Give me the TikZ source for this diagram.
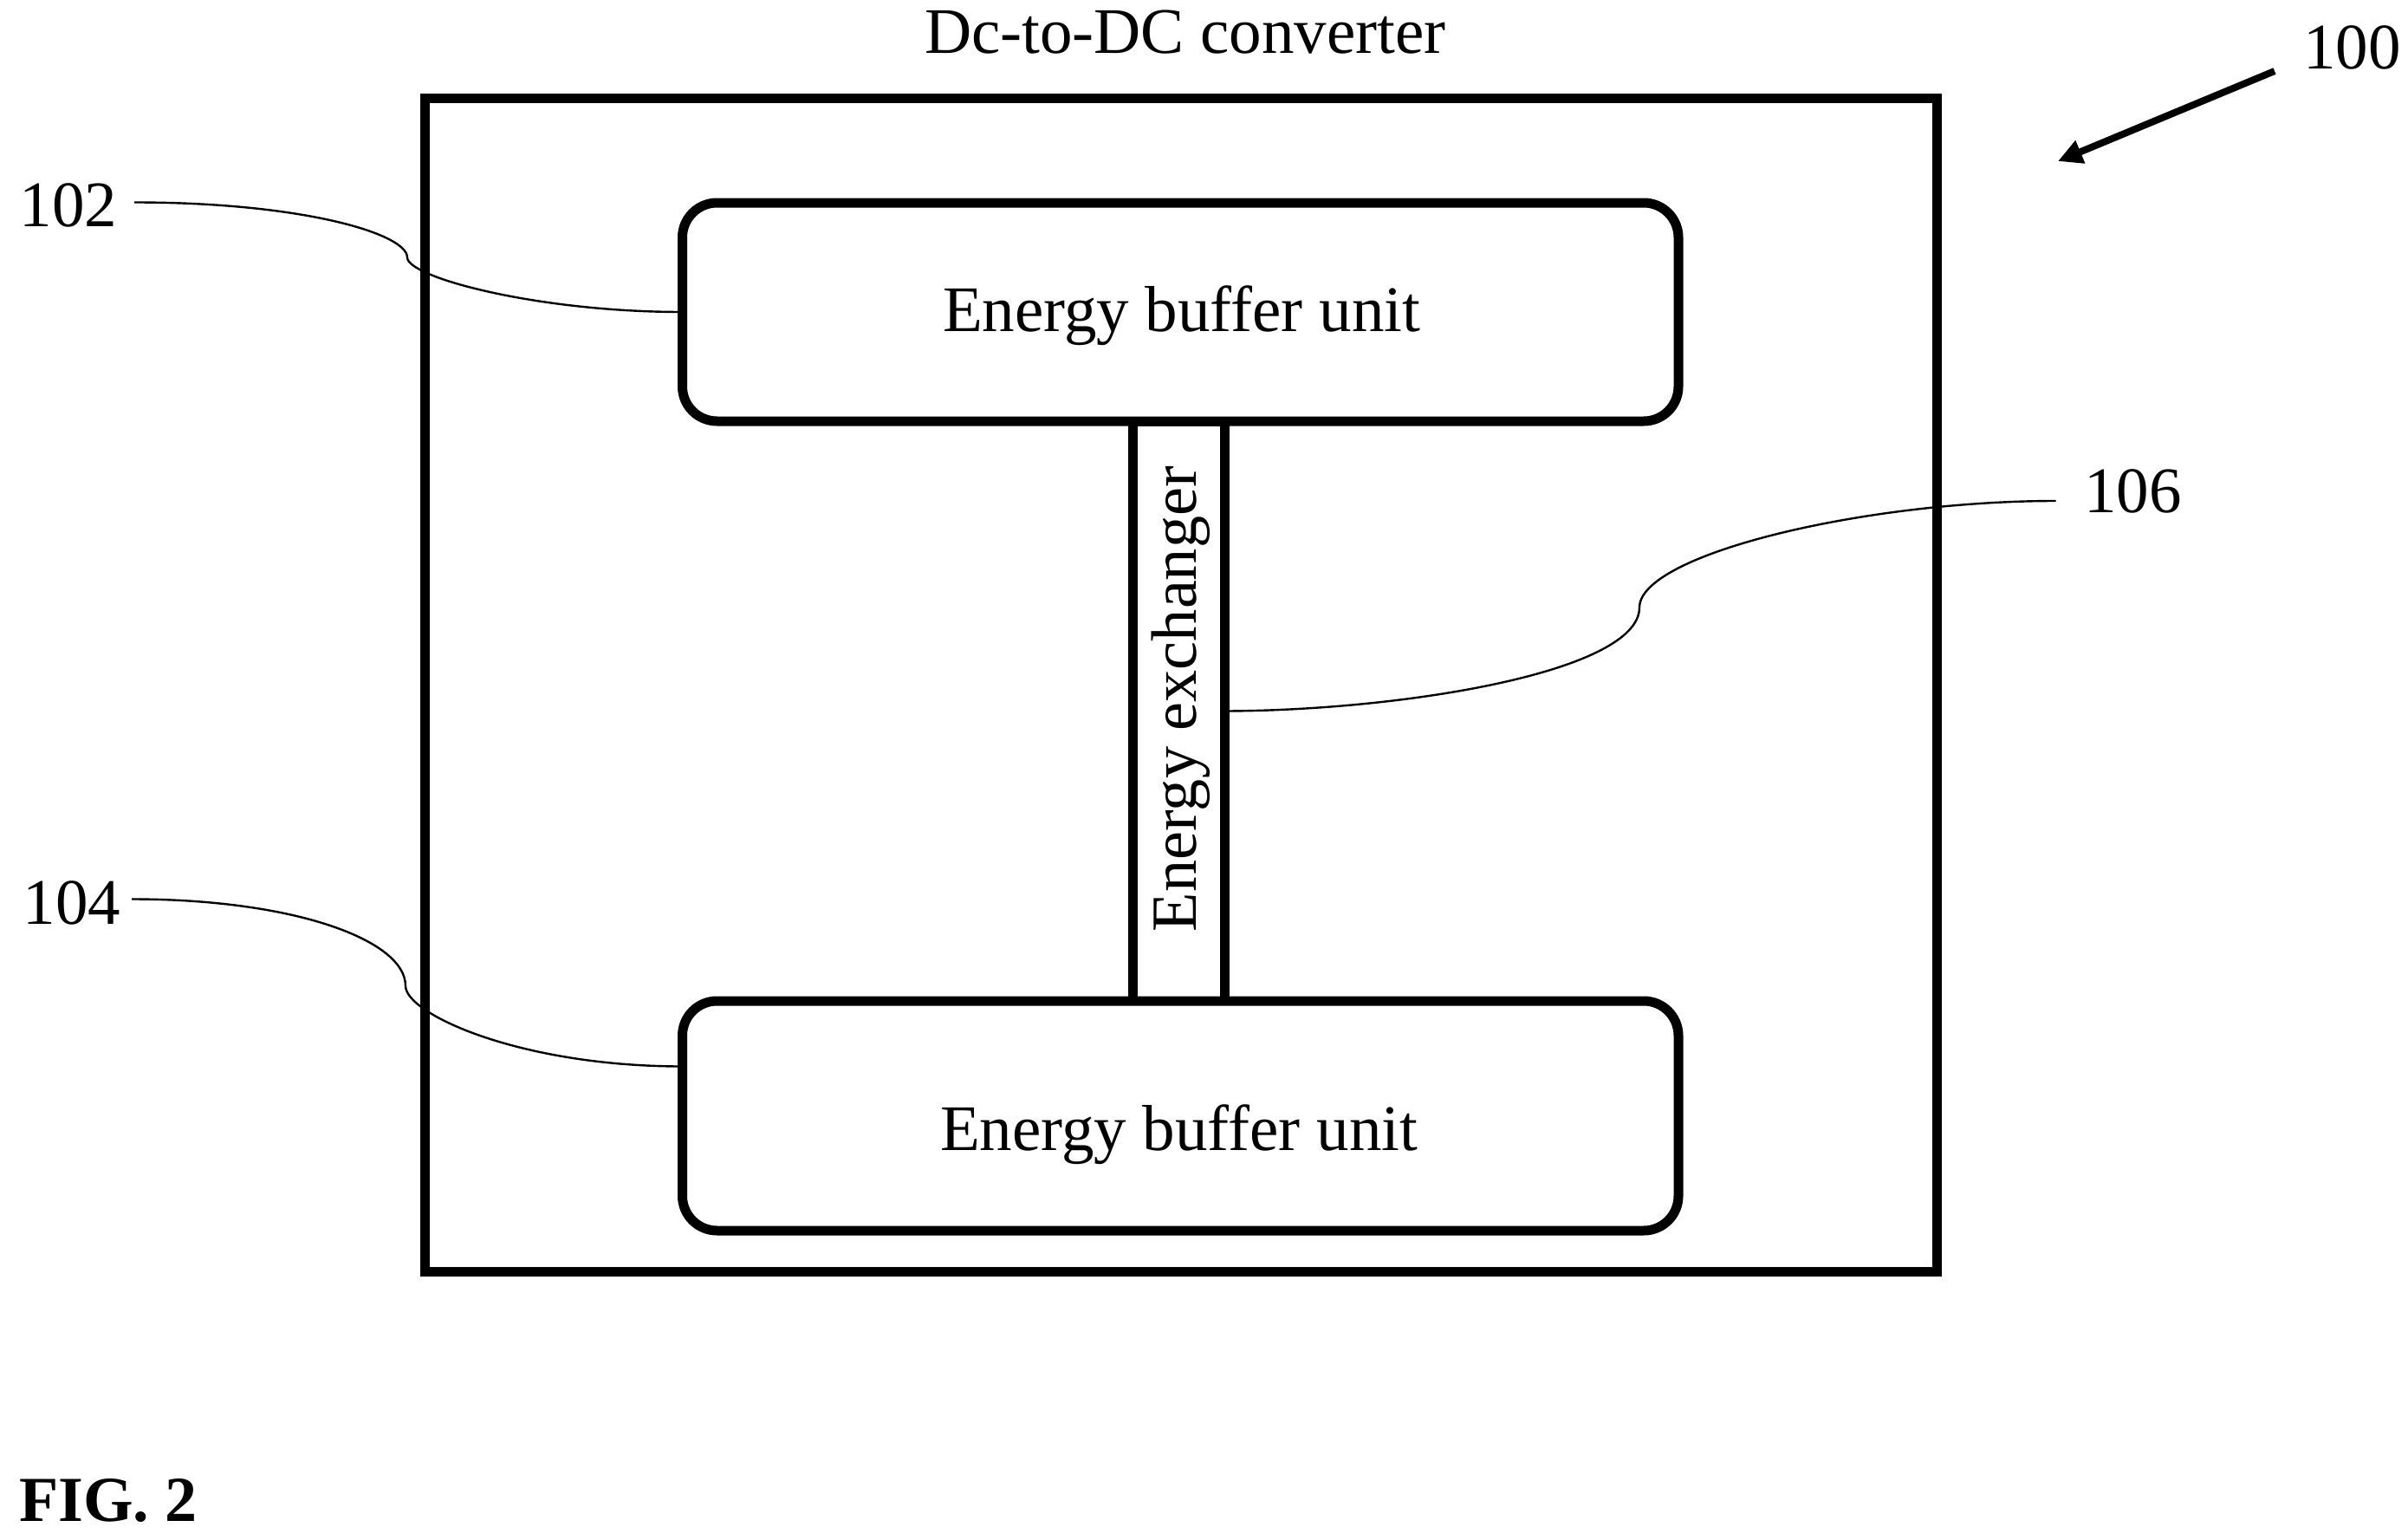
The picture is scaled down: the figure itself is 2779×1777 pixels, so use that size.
\documentclass[tikz,border=0pt]{standalone}
\usepackage{fontspec}
\setmainfont{Liberation Serif}
\usetikzlibrary{arrows.meta,calc}
\tikzset{
  lab/.style={anchor=base west,inner sep=0pt,outer sep=0pt,font=\fontsize{75}{80}\selectfont,text=black},
  outerbox/.style={draw=black,line width=11pt,rectangle,inner sep=0pt,outer sep=0pt},
  bufferbox/.style={draw=black,line width=11pt,rectangle,rounded corners=40pt,inner sep=0pt,outer sep=0pt,fill=white},
  exchbox/.style={draw=black,line width=11pt,rectangle,inner sep=0pt,outer sep=0pt,fill=white},
  leader/.style={draw=black,line width=2.4pt},
  bigarrow/.style={draw=black,line width=8pt,-{Triangle[length=28pt,width=27pt]}}
}
\begin{document}
\begin{tikzpicture}[x=1pt,y=-1pt]
\useasboundingbox (0,0) rectangle (2779,1777);
% containers
\node[outerbox,minimum width=1745pt,minimum height=1354pt] (conv) at (1362.5,790.5) {};
\node[exchbox,minimum width=106pt,minimum height=669pt] (exch) at (1360,820.5) {};
\node[bufferbox,minimum width=1149.5pt,minimum height=252pt] (buf1) at (1362.25,360) {};
\node[bufferbox,minimum width=1149.5pt,minimum height=265pt] (buf2) at (1362.25,1287.5) {};
% texts
\node[lab] (title) at (1067,62) {Dc-to-DC converter};
\node[lab] (t1) at (1088,382.5) {Energy buffer unit};
\node[lab] (t2) at (1085,1327) {Energy buffer unit};
\node[lab,rotate=90,font=\fontsize{74.3}{80}\selectfont] (t3) at (1380,1075) {Energy exchanger};
\node[lab] (n100) at (2658,80) {100};
\node[lab] (n102) at (22.5,261) {102};
\node[lab] (n104) at (27,1066) {104};
\node[lab] (n106) at (2405,591) {106};
\node[lab,font=\fontsize{74}{80}\selectfont\bfseries] (fig) at (22,1755) {FIG. 2};
% leaders
\coordinate (s102) at (155,233.5);
\coordinate (m102) at (470,297);
\draw[leader] (s102) .. controls (350,233.5) and (470,270) .. (m102)
  .. controls (470,320) and (620,360) .. (buf1.west);
\coordinate (s104) at (152,1037.5);
\coordinate (m104) at (468,1137.6);
\coordinate (e104) at ($(buf2.west)+(0,-57)$);
\draw[leader] (s104) .. controls (340,1037.5) and (468,1085) .. (m104)
  .. controls (468,1170) and (600,1230.5) .. (e104);
\coordinate (s106) at (2372.5,578);
\coordinate (m106) at (1892,701);
\draw[leader] (exch.east) .. controls (1620,820) and (1892,775) .. (m106)
  .. controls (1892,640) and (2150,578) .. (s106);
% arrow 100
\coordinate (a0) at (2625,82);
\coordinate (a1) at (2375,186);
\draw[bigarrow] (a0) -- (a1);
\end{tikzpicture}
\end{document}
